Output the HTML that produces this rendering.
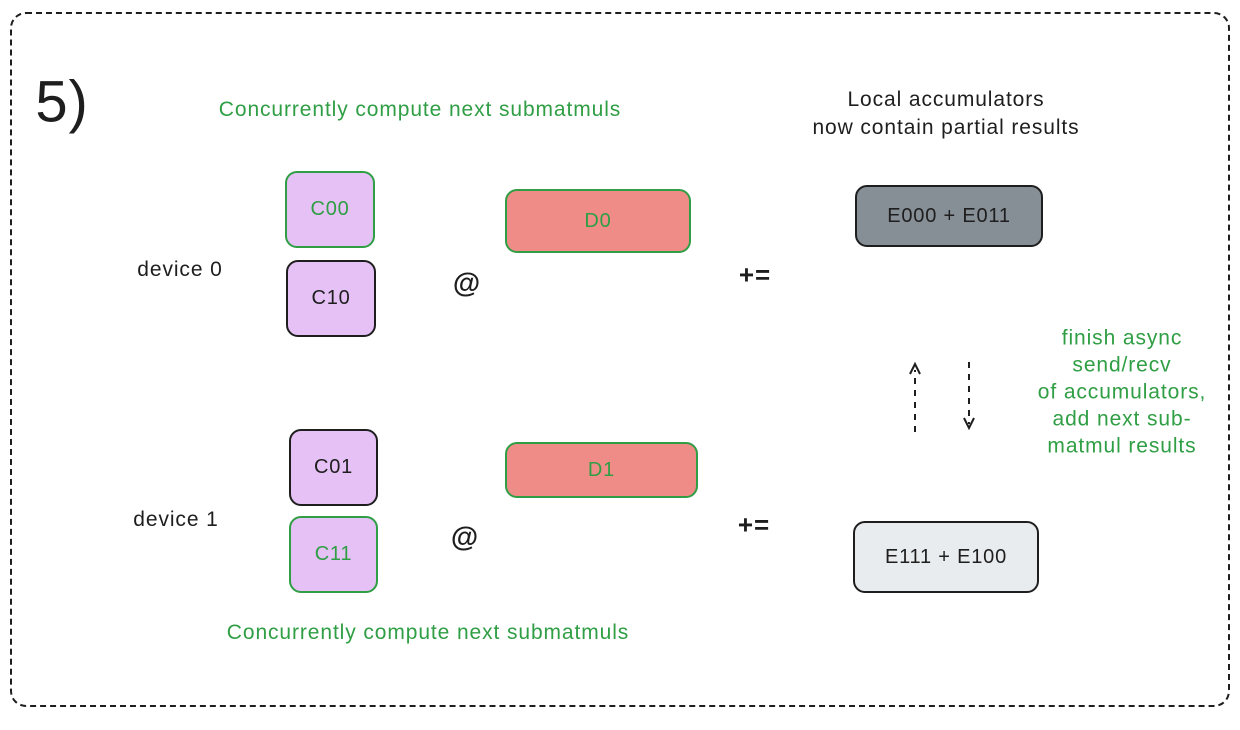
<!DOCTYPE html>
<html><head><meta charset="utf-8"><style>
body{margin:0;width:1240px;height:730px;background:#fff;position:relative;overflow:hidden;font-family:"Liberation Sans",sans-serif;}
.a{position:absolute;box-sizing:border-box;}
.t{position:absolute;white-space:nowrap;transform:translate(-50%,-50%);font-size:21px;letter-spacing:0.9px;color:#1e1e1e;}
.g{color:#2f9e44;}
.box{position:absolute;box-sizing:border-box;border:2px solid #1e1e1e;border-radius:12px;display:flex;align-items:center;justify-content:center;font-size:20px;letter-spacing:0.8px;color:#1e1e1e;}
</style></head><body>
<div class="a" style="left:10px;top:12px;width:1220px;height:695px;border:2px dashed #1e1e1e;border-radius:16px;"></div>
<div class="t" style="left:62px;top:102px;font-size:58px;">5)</div>
<div class="t g" style="left:420px;top:110px;">Concurrently compute next submatmuls</div>
<div class="t" style="left:946px;top:114px;text-align:center;line-height:28px;">Local accumulators<br>now contain partial results</div>
<div class="t" style="left:180px;top:270px;">device 0</div>
<div class="t" style="left:176px;top:520px;">device 1</div>
<div class="box" style="left:285px;top:171px;width:90px;height:77px;background:#e5c1f5;border-color:#2f9e44;color:#2f9e44;">C00</div>
<div class="box" style="left:286px;top:260px;width:90px;height:77px;background:#e5c1f5;">C10</div>
<div class="box" style="left:289px;top:429px;width:89px;height:77px;background:#e5c1f5;">C01</div>
<div class="box" style="left:289px;top:516px;width:89px;height:77px;background:#e5c1f5;border-color:#2f9e44;color:#2f9e44;">C11</div>
<div class="box" style="left:505px;top:189px;width:186px;height:64px;background:#f08c88;border-color:#2f9e44;color:#2f9e44;">D0</div>
<div class="box" style="left:505px;top:442px;width:193px;height:56px;background:#f08c88;border-color:#2f9e44;color:#2f9e44;">D1</div>
<div class="t" style="left:467px;top:283px;font-size:28px;font-weight:bold;">@</div>
<div class="t" style="left:465px;top:537px;font-size:28px;font-weight:bold;">@</div>
<div class="t" style="left:755px;top:275px;font-size:26px;font-weight:bold;">+=</div>
<div class="t" style="left:754px;top:525px;font-size:26px;font-weight:bold;">+=</div>
<div class="box" style="left:855px;top:185px;width:188px;height:62px;background:#868e96;">E000 + E011</div>
<div class="box" style="left:853px;top:521px;width:186px;height:72px;background:#e9ecef;">E111 + E100</div>
<svg class="a" style="left:0;top:0" width="1240" height="730">
<line x1="915" y1="432" x2="915" y2="370" stroke="#1e1e1e" stroke-width="2" stroke-dasharray="6,6"/>
<path d="M910,374 L915,364 L920,374" fill="none" stroke="#1e1e1e" stroke-width="2"/>
<line x1="969" y1="362" x2="969" y2="424" stroke="#1e1e1e" stroke-width="2" stroke-dasharray="6,6"/>
<path d="M964,418 L969,428 L974,418" fill="none" stroke="#1e1e1e" stroke-width="2"/>
</svg>
<div class="t g" style="left:1122px;top:392px;text-align:center;line-height:27px;">finish async<br>send/recv<br>of accumulators,<br>add next sub-<br>matmul results</div>
<div class="t g" style="left:428px;top:633px;">Concurrently compute next submatmuls</div>
</body></html>
